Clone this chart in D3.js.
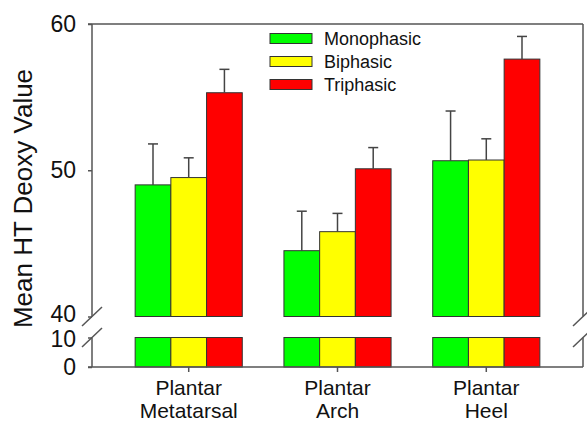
<!DOCTYPE html>
<html>
<head>
<meta charset="utf-8">
<script src="https://cdn.jsdelivr.net/npm/d3@7"></script>
<style>
  html, body { margin: 0; padding: 0; background: #fff; }
  svg { display: block; font-family: Arial, "Liberation Sans", Helvetica, sans-serif; }
</style>
</head>
<body>
<svg id="chart" width="587" height="421"></svg>
<script>
// ---- data ----
const categories = [["Plantar", "Metatarsal"], ["Plantar", "Arch"], ["Plantar", "Heel"]];
const seriesNames = ["Monophasic", "Biphasic", "Triphasic"];
const seriesColors = ["#00ff00", "#ffff00", "#ff0000"];
const monophasic = [49.0, 44.5, 50.65];
const biphasic   = [49.5, 45.8, 50.7];
const triphasic  = [55.3, 50.1, 57.6];
const monophasicErr = [2.8, 2.7, 3.4];
const biphasicErr   = [1.35, 1.25, 1.45];
const triphasicErr  = [1.6, 1.45, 1.55];
const upperTicks = [40, 50, 60];
const lowerTicks = [0, 10];

const seriesValues = [monophasic, biphasic, triphasic];
const seriesErrors = [monophasicErr, biphasicErr, triphasicErr];

const svg = d3.select("#chart");
const left = 92, right = 583;
const axisColor = "#555";
const textColor = "#111";

const x = d3.scaleBand().domain(d3.range(categories.length)).range([left, right])
  .paddingInner(0.28).paddingOuter(0.29);
const xs = d3.scaleBand().domain(d3.range(seriesNames.length)).range([0, x.bandwidth()]);
const yUp = d3.scaleLinear().domain([40, 60]).range([316.5, 24]);
const yLo = d3.scaleLinear().domain([0, 10]).range([367, 337.5]);

const rows = [];
categories.forEach((c, ci) => seriesNames.forEach((s, si) => {
  rows.push({ci, si, v: seriesValues[si][ci], e: seriesErrors[si][ci]});
}));

// bars, upper segment
svg.append("g").selectAll("rect").data(rows).join("rect")
  .attr("x", d => x(d.ci) + xs(d.si))
  .attr("width", xs.bandwidth())
  .attr("y", d => yUp(d.v))
  .attr("height", d => yUp(40) - yUp(d.v))
  .attr("fill", d => seriesColors[d.si])
  .attr("stroke", "#333").attr("stroke-width", 1);

// bars, lower segment
svg.append("g").selectAll("rect").data(rows).join("rect")
  .attr("x", d => x(d.ci) + xs(d.si))
  .attr("width", xs.bandwidth())
  .attr("y", yLo(10))
  .attr("height", yLo(0) - yLo(10))
  .attr("fill", d => seriesColors[d.si])
  .attr("stroke", "#333").attr("stroke-width", 1);

// error bars (upper only)
const eg = svg.append("g").attr("stroke", "#444").attr("stroke-width", 1.5);
rows.forEach(d => {
  const cx = x(d.ci) + xs(d.si) + xs.bandwidth() / 2;
  eg.append("line").attr("x1", cx).attr("x2", cx).attr("y1", yUp(d.v)).attr("y2", yUp(d.v + d.e));
  eg.append("line").attr("x1", cx - 5).attr("x2", cx + 5).attr("y1", yUp(d.v + d.e)).attr("y2", yUp(d.v + d.e));
});

// frame lines
const fg = svg.append("g").attr("stroke", axisColor).attr("stroke-width", 1.5).attr("fill", "none");
fg.append("line").attr("x1", left - 4).attr("x2", right).attr("y1", yUp(60)).attr("y2", yUp(60));
fg.append("line").attr("x1", left - 4).attr("x2", right).attr("y1", yLo(0)).attr("y2", yLo(0));
[left, right].forEach(xx => {
  fg.append("line").attr("x1", xx).attr("x2", xx).attr("y1", yUp(60)).attr("y2", yUp(40));
  fg.append("line").attr("x1", xx).attr("x2", xx).attr("y1", yLo(10)).attr("y2", yLo(0));
  // break marks
  [yUp(40), yLo(10)].forEach(yy => {
    fg.append("line").attr("x1", xx - 10).attr("x2", xx + 10).attr("y1", yy + 9.5).attr("y2", yy - 9.5);
  });
});

// y axes via d3 axis
const axUp = svg.append("g").attr("transform", `translate(${left},0)`)
  .call(d3.axisLeft(yUp).tickValues(upperTicks).tickSize(4).tickPadding(12));
const axLo = svg.append("g").attr("transform", `translate(${left},0)`)
  .call(d3.axisLeft(yLo).tickValues(lowerTicks).tickSize(4).tickPadding(12));
[axUp, axLo].forEach(g => {
  g.select(".domain").remove();
  g.selectAll(".tick line").attr("stroke", axisColor).attr("stroke-width", 1.5);
  g.selectAll(".tick text").attr("font-size", 23).attr("fill", textColor)
    .attr("font-family", "Arial, 'Liberation Sans', sans-serif");
});
// nudge the two labels at the break apart slightly
axUp.selectAll(".tick text").filter(d => d === 40).attr("dy", "0.2em");
axLo.selectAll(".tick text").filter(d => d === 10).attr("dy", "0.4em");

// x axis ticks
const axX = svg.append("g").attr("transform", `translate(0,${yLo(0)})`)
  .call(d3.axisBottom(x).tickSize(5).tickFormat(""));
axX.select(".domain").remove();
axX.selectAll(".tick line").attr("stroke", axisColor).attr("stroke-width", 1.5);

// category labels
const cl = svg.append("g").attr("font-size", 21).attr("fill", textColor).attr("text-anchor", "middle");
categories.forEach((c, ci) => {
  const t = cl.append("text").attr("x", x(ci) + x.bandwidth() / 2).attr("y", 395);
  t.append("tspan").attr("x", x(ci) + x.bandwidth() / 2).text(c[0]);
  t.append("tspan").attr("x", x(ci) + x.bandwidth() / 2).attr("dy", 23).text(c[1]);
});

// y title
svg.append("text")
  .attr("transform", `translate(32,${(70 + 327) / 2}) rotate(-90)`)
  .attr("text-anchor", "middle").attr("font-size", 26).attr("fill", textColor)
  .text("Mean HT Deoxy Value");

// legend
const lg = svg.append("g");
seriesNames.forEach((s, i) => {
  const cy = 38.5 + i * 23;
  lg.append("rect").attr("x", 270).attr("y", cy - 5).attr("width", 42).attr("height", 10)
    .attr("fill", seriesColors[i]).attr("stroke", "#333").attr("stroke-width", 1);
  lg.append("text").attr("x", 324).attr("y", cy + 6.5).attr("font-size", 18).attr("fill", textColor).text(s);
});
</script>
</body>
</html>
